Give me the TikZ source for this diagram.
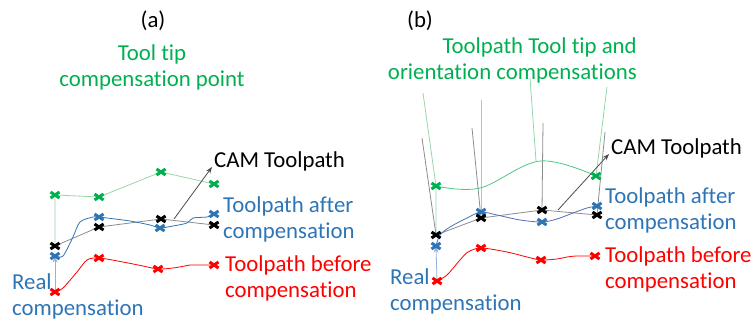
\documentclass[tikz,border=0pt]{standalone}
\usepackage{fontspec}
\setmainfont{Carlito}[Ligatures=NoCommon]
\usepackage{xcolor}
\usetikzlibrary{arrows.meta}
\definecolor{tipgreen}{RGB}{0,176,80}
\definecolor{axgreen}{RGB}{150,215,170}
\definecolor{pathblue}{RGB}{46,117,182}
\definecolor{slateblue}{RGB}{80,110,180}
\definecolor{realblue}{RGB}{150,175,220}
\definecolor{pathred}{RGB}{255,0,0}

\begin{document}
\begin{tikzpicture}[x=1pt,y=-1pt,>=Stealth,line join=round,
  txt/.style={inner sep=0pt,font=\fontsize{22.8}{26}\selectfont},
  thinline/.style={line width=0.8pt},
  xmark/.pic={\draw[line width=3pt] (-4.5,-3) -- (4.5,3) (-4.5,3) -- (4.5,-3);}]
  \useasboundingbox (0,0) rectangle (753,321);
  % (a) tool tip compensation
  \coordinate (ga1) at (55,195);
  \coordinate (ga2) at (99,197);
  \coordinate (ga3) at (161,172);
  \coordinate (ga4) at (214,184);
  \coordinate (ka1) at (55,246);
  \coordinate (ka2) at (99,227);
  \coordinate (ka3) at (161,219);
  \coordinate (ka4) at (214,225);
  \coordinate (ba1) at (55,256);
  \coordinate (ba2) at (99,217);
  \coordinate (ba3) at (160,228);
  \coordinate (ba4) at (214,214);
  \coordinate (ra1) at (55,292);
  \coordinate (ra2) at (99,258);
  \coordinate (ra3) at (158,269);
  \coordinate (ra4) at (214,265);
  \coordinate (arrA) at (174,219);
  % (b) tool tip and orientation compensation
  \coordinate (gb1) at (436,186);
  \coordinate (gb2) at (596,176);
  \coordinate (kb1) at (436,235);
  \coordinate (kb2) at (481,218);
  \coordinate (kb3) at (542,210);
  \coordinate (kb4) at (597,215);
  \coordinate (bb1) at (436,246);
  \coordinate (bb2) at (481,212);
  \coordinate (bb3) at (542,222);
  \coordinate (bb4) at (597,206);
  \coordinate (rb1) at (437,281);
  \coordinate (rb2) at (481,248);
  \coordinate (rb3) at (541,260);
  \coordinate (rb4) at (595,256);
  \coordinate (tk1) at (422,138);
  \coordinate (tk2) at (472,128);
  \coordinate (tk3) at (543,123);
  \coordinate (tk4) at (605,132);
  \coordinate (tg1) at (423,93);
  \coordinate (tg2) at (481,100);
  \coordinate (tg3) at (530,78);
  \coordinate (tg4) at (607,87);
  \coordinate (cg3) at (536,161);
  \coordinate (arrB) at (558,210);

  % texts (two-line nodes sit on their last baseline)
  \node[txt,anchor=base] (labA) at (153,28) {(a)};
  \node[txt,tipgreen,align=center,anchor=base] (tipA) at (152,87) {Tool tip\\compensation point};
  \node[txt,anchor=base west] (camA) at (214,167) {CAM Toolpath};
  \node[txt,pathblue,align=left,anchor=base west] (afterA) at (223,238) {Toolpath after\\compensation};
  \node[txt,pathred,align=left,anchor=base west] (beforeA) at (225,297) {Toolpath before\\compensation};
  \node[txt,pathblue,align=left,anchor=base west] (realA) at (12,315) {Real\\compensation};
  \node[txt,anchor=base] (labB) at (420,28) {(b)};
  \node[txt,tipgreen,align=right,anchor=base east] (tipB) at (637,80) {Toolpath Tool tip and\\orientation compensations};
  \node[txt,anchor=base west] (camB) at (611,154) {CAM Toolpath};
  \node[txt,pathblue,align=left,anchor=base west] (afterB) at (605,229) {Toolpath after\\compensation};
  \node[txt,pathred,align=left,anchor=base west] (beforeB) at (605,288) {Toolpath before\\compensation};
  \node[txt,pathblue,align=left,anchor=base west] (realB) at (390,310) {Real\\compensation};

  % (a) paths
  \draw[thinline,axgreen] (ka1) -- (ga1) -- (ga2) -- (ga3) -- (ga4);
  \draw[thinline,black!45] (ka1) -- (ka2) -- (ka3) -- (ka4);
  \draw[thinline,pathblue] plot[smooth,tension=0.5] coordinates {(ba1) (63,256) (73,237) (80,222) (93,217) (ba2) (107,218) (130,221) (150,225) (ba3) (173,226) (187,223) (193,218) (207,217) (ba4)};
  \draw[thinline,pathred] plot[smooth,tension=0.5] coordinates {(ra1) (63,288) (77,272) (87,260) (ra2) (123,262) (143,266) (ra3) (173,268) (185,266) (190,265) (203,265) (ra4)};
  \draw[thinline,realblue,->] (ra1) -- (ba1);
  \draw[thinline,black!70,->] (arrA) -- ([xshift=-2pt]camA.base west);
  \foreach \p in {ga1,ga2,ga3,ga4} \pic[tipgreen] at (\p) {xmark};
  \foreach \p in {ba1,ba2,ba3,ba4} \pic[pathblue] at (\p) {xmark};
  \foreach \p in {ka1,ka2,ka3,ka4} \pic[black] at (\p) {xmark};
  \foreach \p in {ra1,ra2,ra3,ra4} \pic[pathred] at (\p) {xmark};

  % (b) paths
  \draw[thinline,axgreen] (tg1) -- (gb1) -- (kb1);
  \draw[thinline,axgreen] (tg2) -- (bb2);
  \draw[thinline,axgreen] (tg3) -- (cg3);
  \draw[thinline,axgreen] (tg4) -- (gb2);
  \draw[thinline,black!45] (tk1) -- (kb1);
  \draw[thinline,black!45] (tk2) -- (kb2);
  \draw[thinline,black!45] (tk3) -- (kb3);
  \draw[thinline,black!45] (tk4) -- (kb4);
  \draw[thinline,tipgreen!70] plot[smooth,tension=0.6] coordinates {(gb1) (480,188) (540,161) (gb2)};
  \draw[thinline,black!45] (kb1) -- (kb2) -- (kb3) -- (kb4);
  \draw[thinline,slateblue] plot[smooth,tension=0.5] coordinates {(bb1) (440,235) (450,227) (467,218) (bb2) (497,215) (520,220) (bb3) (557,219) (573,213) (587,208) (bb4)};
  \draw[thinline,pathred] plot[smooth,tension=0.5] coordinates {(rb1) (447,275) (460,260) (468,252) (rb2) (507,252) (527,257) (rb3) (557,259) (567,257) (577,256) (rb4)};
  \draw[thinline,realblue,->] (rb1) -- (bb1);
  \draw[thinline,black!70,->] (arrB) -- ([xshift=-2pt]camB.base west);
  \foreach \p in {gb1,gb2} \pic[tipgreen] at (\p) {xmark};
  \foreach \p in {bb1,bb2,bb3,bb4} \pic[pathblue] at (\p) {xmark};
  \foreach \p in {kb1,kb2,kb3,kb4} \pic[black] at (\p) {xmark};
  \foreach \p in {rb1,rb2,rb3,rb4} \pic[pathred] at (\p) {xmark};
\end{tikzpicture}
\end{document}
